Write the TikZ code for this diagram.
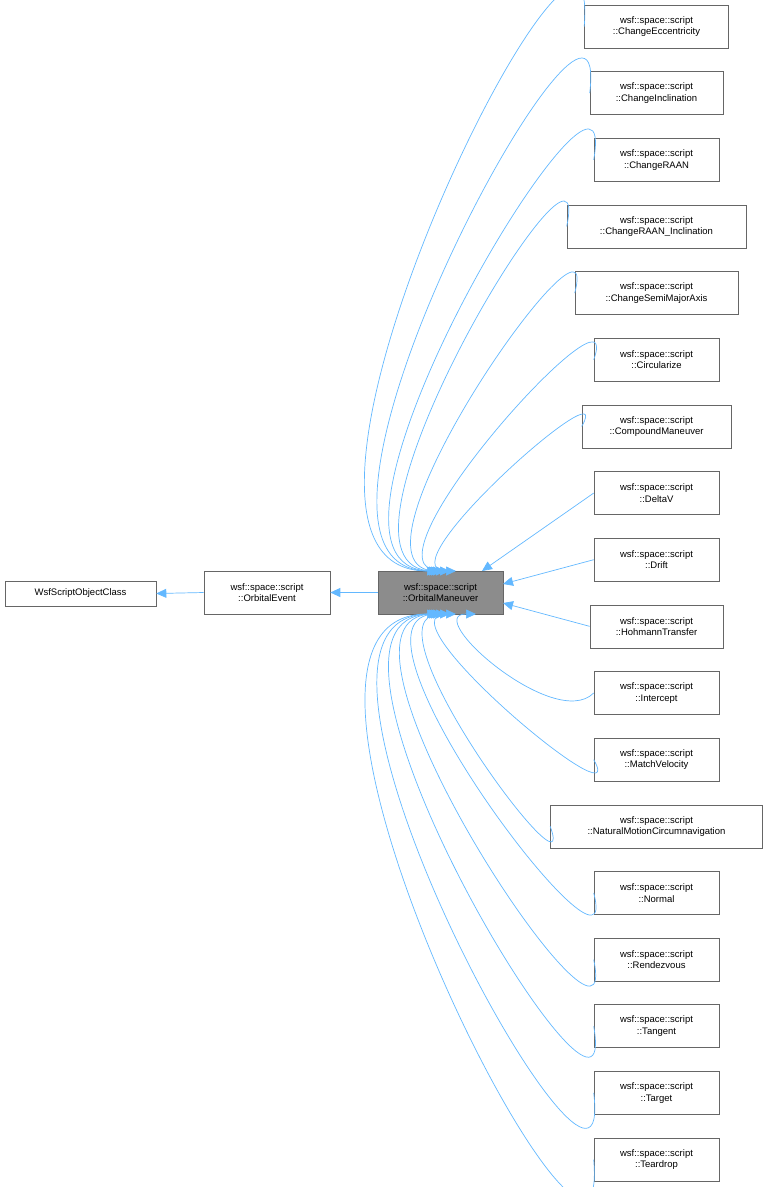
\documentclass[tikz,border=0pt]{standalone}
\usepackage{fontspec}
\setmainfont{Liberation Sans}
\usetikzlibrary{arrows.meta}
\definecolor{edge}{HTML}{63B8FF}
\begin{document}
\begin{tikzpicture}[x=1pt,y=-1pt,
  box/.style={draw=black!60,line width=0.6pt,fill=white,font=\fontsize{9.5}{11.5}\selectfont,align=center,inner sep=0pt,minimum height=43pt},
  inh/.style={draw=edge,line width=0.7pt,{Triangle[length=10pt,width=9pt,fill=edge]}-}]
\useasboundingbox (0,0) rectangle (768,1187);
\node[box,minimum height=25pt,minimum width=151pt] (wsf) at (80.5,593.5) {WsfScriptObjectClass};
\node[box,minimum width=126pt] (ev) at (267,592.5) {wsf::space::script\\::OrbitalEvent};
\node[box,minimum width=125pt,fill=black!45] (om) at (440.5,592.5) {wsf::space::script\\::OrbitalManeuver};
\foreach \i/\n/\w in {1/ChangeEccentricity/144,2/ChangeInclination/133,3/ChangeRAAN/125,4/ChangeRAAN\_Inclination/179,5/ChangeSemiMajorAxis/163,6/Circularize/125,7/CompoundManeuver/149,8/DeltaV/125,9/Drift/125,10/HohmannTransfer/133,11/Intercept/125,12/MatchVelocity/125,13/NaturalMotionCircumnavigation/212,14/Normal/125,15/Rendezvous/125,16/Tangent/125,17/Target/125,18/Teardrop/125}{
  \node[box,minimum width=\w pt] (c\i) at (656.5,{26.5+66.65*(\i-1)}) {wsf::space::script\\::\n};
}
\draw[inh] (wsf.east) -- (ev.west);
\draw[inh] (ev.east) -- (om.west);
\foreach \i/\x/\a in {1/437/85,2/439/83,3/441/80,4/443/78,5/446/75,6/450/70,7/456/60}{
  \draw[inh] (\x,571) to[in=\a,out=180] (c\i.west);
}
\draw[inh] (482,571) -- (c8.west);
\draw[inh] (503,584) -- (c9.west);
\draw[inh] (503,603) -- (c10.west);
\draw[inh] (476,614) to[in=-135,out=180] (c11.west);
\foreach \i/\x/\a in {12/456/-60,13/450/-70,14/446/-75,15/443/-78,16/441/-80,17/439/-83,18/437/-85}{
  \draw[inh] (\x,614) to[in=\a,out=180] (c\i.west);
}
\end{tikzpicture}
\end{document}
